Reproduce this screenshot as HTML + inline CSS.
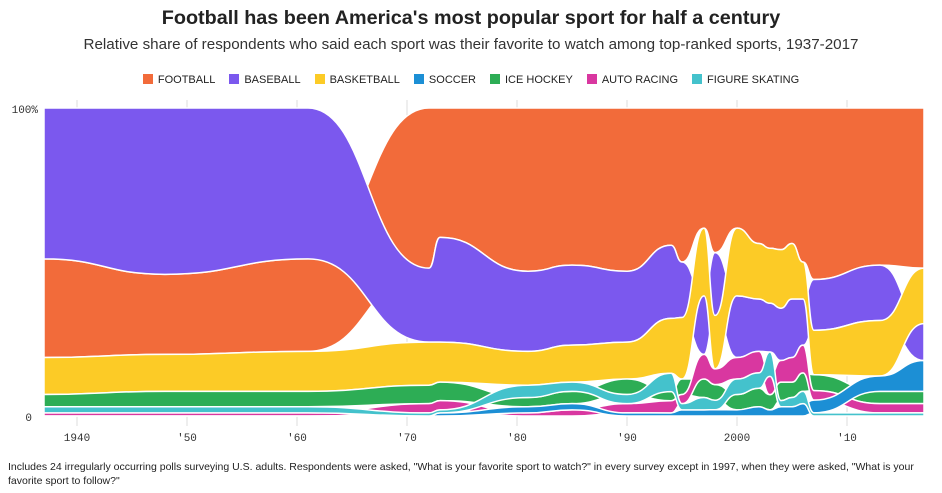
<!DOCTYPE html>
<html><head><meta charset="utf-8"><style>
body{margin:0;width:942px;height:493px;background:#fff;font-family:"Liberation Sans",sans-serif;overflow:hidden;position:relative}
#title{position:absolute;top:7px;left:0;width:942px;text-align:center;font-size:19.8px;font-weight:bold;color:#222}
#sub{position:absolute;top:36px;left:0;width:942px;text-align:center;font-size:15.2px;color:#333}
#legend{position:absolute;top:74px;left:0;width:942px;text-align:center;font-size:11px;color:#222}
.li{display:inline-block;margin:0 7px}
.sw{display:inline-block;width:10px;height:10px;vertical-align:-1px;margin-right:5px}
#note{position:absolute;top:460px;left:8px;width:930px;font-size:10.5px;line-height:14px;color:#222}
svg{position:absolute;left:0;top:0}
</style></head><body>
<div id="title">Football has been America's most popular sport for half a century</div>
<div id="sub">Relative share of respondents who said each sport was their favorite to watch among top-ranked sports, 1937-2017</div>
<div id="legend"></div>
<svg id="chart" width="942" height="493"></svg>
<div id="note">Includes 24 irregularly occurring polls surveying U.S. adults. Respondents were asked, "What is your favorite sport to watch?" in every survey except in 1997, when they were asked, "What is your favorite sport to follow?"</div>
<script>
const years=[1937,1948,1961,1972,1973,1981,1985,1990,1994,1995,1997,1998,2000,2002,2003,2004,2005,2006,2007,2013,2017];
const sports=["football","baseball","basketball","soccer","ice-hockey","auto-racing","figure-skating"];
const labels=["FOOTBALL","BASEBALL","BASKETBALL","SOCCER","ICE HOCKEY","AUTO RACING","FIGURE SKATING"];
const football  =[32,26,30,52,42,53,51,53,45,50,39,46,39,44,46,46,44,50,54,51,52];
const baseball  =[49,54,49,24,34,26,26,23,24,18,19,20,20,17,16,17,19,15,16,18,12];
const basketball=[12,12,13,14,13,11,12,12,18,20,22,17,22,18,18,19,18,12,14,18,18];
const soccer    =[0,0,0,0,1,2,2,1,1,2,2,2,2,3,2,3,3,4,4,5,10];
const iceHockey =[4,5,5,6,6,3,4,5,3,5,6,5,5,6,5,6,5,6,5,4,4];
const autoRacing=[1,1,1,3,3,1,2,3,4,3,8,5,7,7,6,7,8,9,3,3,3];
const skating   =[2,2,2,1,1,4,3,3,6,2,4,3,5,5,8,2,3,4,1,1,1];
// stacking order per poll, bottom -> top (indices into sports)
const orders=[
"5,6,4,2,0,1","5,6,4,2,0,1","5,6,4,2,0,1","3,6,5,4,2,1,0","3,6,5,4,2,1,0",
"5,3,4,6,2,1,0","5,3,4,6,2,1,0","3,5,6,4,2,1,0","3,5,4,6,2,1,0","3,6,5,4,2,1,0",
"3,6,4,5,1,2,0","3,6,4,5,2,1,0","3,4,6,5,1,2,0","3,4,6,5,1,2,0","3,4,5,6,1,2,0",
"3,6,4,5,1,2,0","3,6,4,5,1,2,0","3,6,4,5,1,2,0","6,3,5,4,2,1,0","6,5,4,3,2,1,0","6,5,4,3,1,2,0"];
const colors=["#F26B3A","#7B58EE","#FCCB26","#1C8FD5","#2DAD55","#D937A0","#44C2CC"];
const values=[football,baseball,basketball,soccer,iceHockey,autoRacing,skating];
const xTicks=[1940,1950,1960,1970,1980,1990,2000,2010];
const xTickLabels=["1940","'50","'60","'70","'80","'90","2000","'10"];
const X=y=>44+(y-1937)*11, Y=p=>416-p*3.08;
const NS="http://www.w3.org/2000/svg", svg=document.getElementById('chart');
function mk(t,a,p){const e=document.createElementNS(NS,t);for(const k in a)e.setAttribute(k,a[k]);(p||svg).appendChild(e);return e;}
const lg=document.getElementById('legend');
labels.forEach((l,i)=>{const s=document.createElement('span');s.className='li';


s.innerHTML='<span class="sw" style="background:'+colors[i]+'"></span>'+l;lg.appendChild(s);});
xTicks.forEach((t,i)=>{const g=mk('line',{x1:X(t),x2:X(t),y1:100,y2:426,stroke:'#ddd','stroke-width':1});


const tx=mk('text',{x:X(t),y:441,'text-anchor':'middle','font-size':11,fill:'#333','font-family':'"Liberation Mono",monospace'});
tx.textContent=xTickLabels[i];

});
const y1=mk('text',{x:38,y:113,'text-anchor':'end','font-size':11,fill:'#333','font-family':'"Liberation Mono",monospace'});y1.textContent='100%';


const y0=mk('text',{x:32,y:421,'text-anchor':'end','font-size':11,fill:'#333','font-family':'"Liberation Mono",monospace'});y0.textContent='0';


const lo=sports.map(()=>[]),hi=sports.map(()=>[]);
years.forEach((yr,j)=>{let acc=0;const ord=orders[j].split(',').map(Number);
const seen=new Set(ord);
sports.forEach((s,i)=>{if(!seen.has(i)){lo[i][j]=0;hi[i][j]=0;}});
ord.forEach(i=>{lo[i][j]=acc;acc+=values[i][j];hi[i][j]=acc;});
const tot=acc;ord.forEach(i=>{lo[i][j]=lo[i][j]/tot*100;hi[i][j]=hi[i][j]/tot*100;});});
function bump(pts){let d='M'+pts[0][0]+','+pts[0][1];for(let k=1;k<pts.length;k++){const a=pts[k-1],b=pts[k],m=(a[0]+b[0])/2;d+='C'+m+','+a[1]+' '+m+','+b[1]+' '+b[0]+','+b[1];}return d;}
const drawOrder=[0,1,2,4,5,3,6];
drawOrder.forEach(i=>{
const top=years.map((yr,j)=>[X(yr),Y(hi[i][j])]);
const bot=years.map((yr,j)=>[X(yr),Y(lo[i][j])]).reverse();
let d=bump(top)+'L'+bot[0][0]+','+bot[0][1]+bump(bot).replace(/^M[^C]*/,'')+'Z';
const p=mk('path',{d:d,fill:colors[i],stroke:'#fff','stroke-width':1.5,'stroke-linejoin':'round'});


});
</script>
</body></html>
